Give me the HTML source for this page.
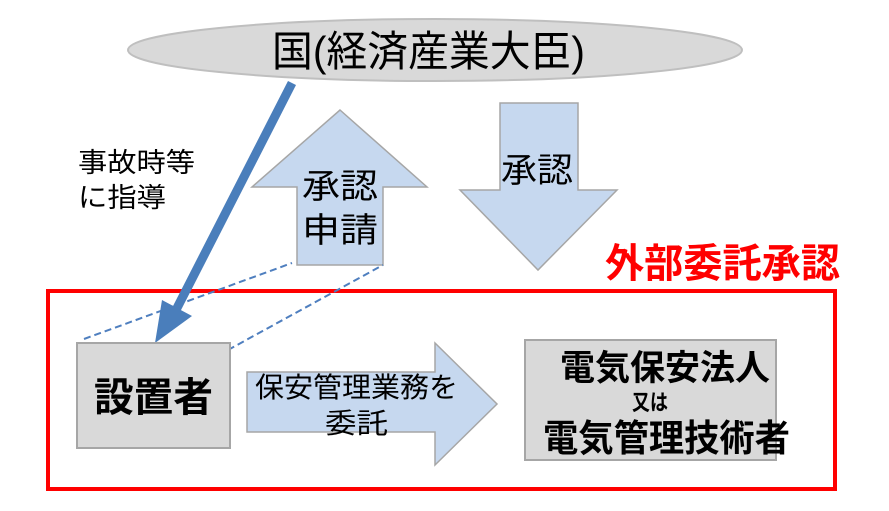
<!DOCTYPE html>
<html><head><meta charset="utf-8"><style>
body{margin:0;background:#fff;}
svg text{font-family:"Liberation Sans","Noto Sans CJK JP",sans-serif;}
</style></head><body>
<svg width="889" height="506" viewBox="0 0 889 506" xmlns="http://www.w3.org/2000/svg">
<ellipse cx="435" cy="50" rx="307" ry="31" fill="#d9d9d9" stroke="#bfbfbf" stroke-width="2"/>
<text x="272" y="66" font-size="42" textLength="313" lengthAdjust="spacingAndGlyphs" fill="#000">国(経済産業大臣)</text>
<polygon points="340,110 427,187 383,187 383,265 297,265 297,187 252,187" fill="#c6d8ef" stroke="#a6a6a6" stroke-width="1.5"/>
<text x="302" y="198" font-size="34" textLength="76" lengthAdjust="spacingAndGlyphs">承認</text>
<text x="302" y="242" font-size="34" textLength="76" lengthAdjust="spacingAndGlyphs">申請</text>
<polygon points="500,103 578,103 578,190 617,190 538,270 460,190 500,190" fill="#c6d8ef" stroke="#a6a6a6" stroke-width="1.5"/>
<text x="501" y="182" font-size="34" textLength="72" lengthAdjust="spacingAndGlyphs">承認</text>
<text x="78" y="172" font-size="27" textLength="117" lengthAdjust="spacingAndGlyphs">事故時等</text>
<text x="78" y="207" font-size="27" textLength="88" lengthAdjust="spacingAndGlyphs">に指導</text>
<text x="605" y="277" font-size="40" font-weight="bold" fill="#ff0000" textLength="235" lengthAdjust="spacingAndGlyphs">外部委託承認</text>
<rect x="48" y="291" width="787" height="198" fill="none" stroke="#ff0000" stroke-width="4"/>
<line x1="84" y1="339" x2="292" y2="263" stroke="#4f7fbf" stroke-width="2" stroke-dasharray="7,4"/>
<line x1="228" y1="350" x2="383" y2="265" stroke="#4f7fbf" stroke-width="2" stroke-dasharray="7,4"/>
<line x1="292" y1="83" x2="176" y2="310" stroke="#4a7ebb" stroke-width="9"/>
<polygon points="155,343 162,300 192,316" fill="#4a7ebb"/>
<rect x="77" y="343" width="153" height="105" fill="#d9d9d9" stroke="#a6a6a6" stroke-width="2"/>
<text x="94" y="411" font-size="40" font-weight="bold" textLength="119" lengthAdjust="spacingAndGlyphs">設置者</text>
<polygon points="247,372 435,372 435,343 497,404 435,465 435,432 247,432" fill="#c6d8ef" stroke="#a6a6a6" stroke-width="1.5"/>
<text x="255" y="397" font-size="28" textLength="203" lengthAdjust="spacingAndGlyphs">保安管理業務を</text>
<text x="325" y="433" font-size="28" textLength="63" lengthAdjust="spacingAndGlyphs">委託</text>
<rect x="525" y="340" width="251" height="120" fill="#d9d9d9" stroke="#a6a6a6" stroke-width="2"/>
<text x="560" y="380" font-size="35" font-weight="bold" textLength="210" lengthAdjust="spacingAndGlyphs">電気保安法人</text>
<text x="632" y="410" font-size="22" font-weight="bold" textLength="36" lengthAdjust="spacingAndGlyphs">又は</text>
<text x="543" y="451" font-size="37" font-weight="bold" textLength="247" lengthAdjust="spacingAndGlyphs">電気管理技術者</text>
</svg>
</body></html>
